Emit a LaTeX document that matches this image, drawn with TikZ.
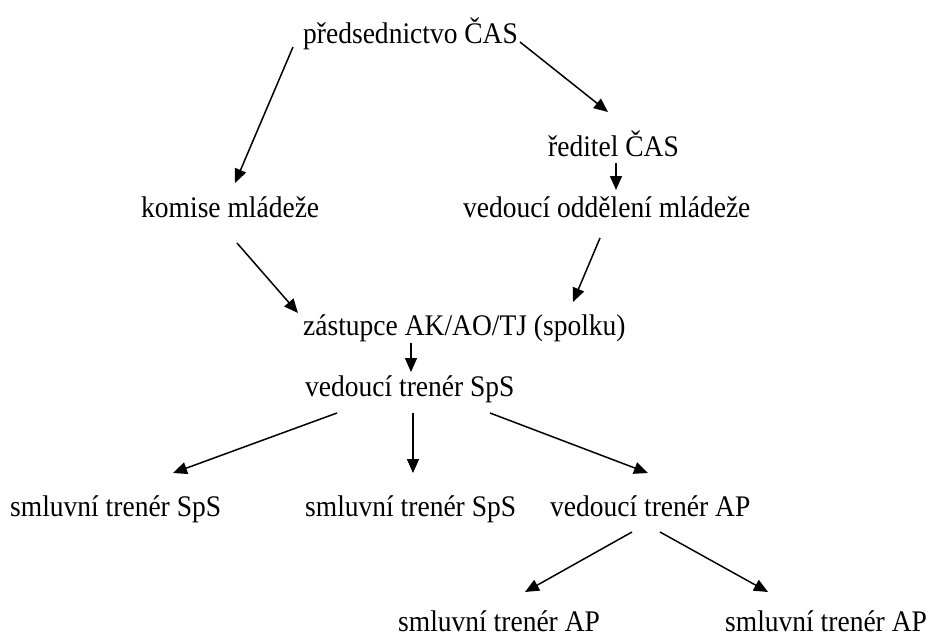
\documentclass[tikz,border=0pt]{standalone}
\usepackage{fontspec}
\setmainfont{Liberation Serif}[FakeStretch=0.92]
\usetikzlibrary{arrows.meta}
\begin{document}
\begin{tikzpicture}[x=1pt,y=1pt,
  lbl/.style={anchor=base west,inner sep=0pt,font=\fontsize{29.9}{34}\selectfont},
  arr/.style={line width=1.5pt,-{Triangle[length=14pt,width=12pt]}}]
\useasboundingbox (0,0) rectangle (927,-637);
\node[lbl] (top) at (303,-43) {předsednictvo ČAS};
\node[lbl] (red) at (548,-156) {ředitel ČAS};
\node[lbl] (kom) at (141,-217) {komise mládeže};
\node[lbl] (ved) at (463,-217) {vedoucí oddělení mládeže};
\node[lbl] (zas) at (303,-335) {zástupce AK/AO/TJ (spolku)};
\node[lbl] (vts) at (305,-396) {vedoucí trenér SpS};
\node[lbl] (s1) at (10,-516) {smluvní trenér SpS};
\node[lbl] (s2) at (305,-516) {smluvní trenér SpS};
\node[lbl] (vap) at (550,-516) {vedoucí trenér AP};
\node[lbl] (ap1) at (398,-631) {smluvní trenér AP};
\node[lbl] (ap2) at (725,-631) {smluvní trenér AP};
\draw[arr] ([shift={(-10,-4)}]top.base west) -- ([shift={(94,34)}]kom.base west);
\draw[arr] ([shift={(217,1)}]top.base west) -- ([shift={(60,44)}]red.base west);
\draw[arr] ([shift={(68,-7)}]red.base west) -- ([shift={(153,27)}]ved.base west);
\draw[arr] ([shift={(96,-26)}]kom.base west) -- ([shift={(-5,22)}]zas.base west);
\draw[arr] ([shift={(137,-21)}]ved.base west) -- ([shift={(270,33)}]zas.base west);
\draw[arr] ([shift={(108,-8)}]zas.base west) -- ([shift={(106,24)}]vts.base west);
\draw[arr] ([shift={(32,-17)}]vts.base west) -- ([shift={(163,43)}]s1.base west);
\draw[arr] ([shift={(108,-17)}]vts.base west) -- ([shift={(108,43)}]s2.base west);
\draw[arr] ([shift={(185,-17)}]vts.base west) -- ([shift={(98,43)}]vap.base west);
\draw[arr] ([shift={(82,-16)}]vap.base west) -- ([shift={(127,39)}]ap1.base west);
\draw[arr] ([shift={(110,-16)}]vap.base west) -- ([shift={(43,39)}]ap2.base west);
\end{tikzpicture}
\end{document}
